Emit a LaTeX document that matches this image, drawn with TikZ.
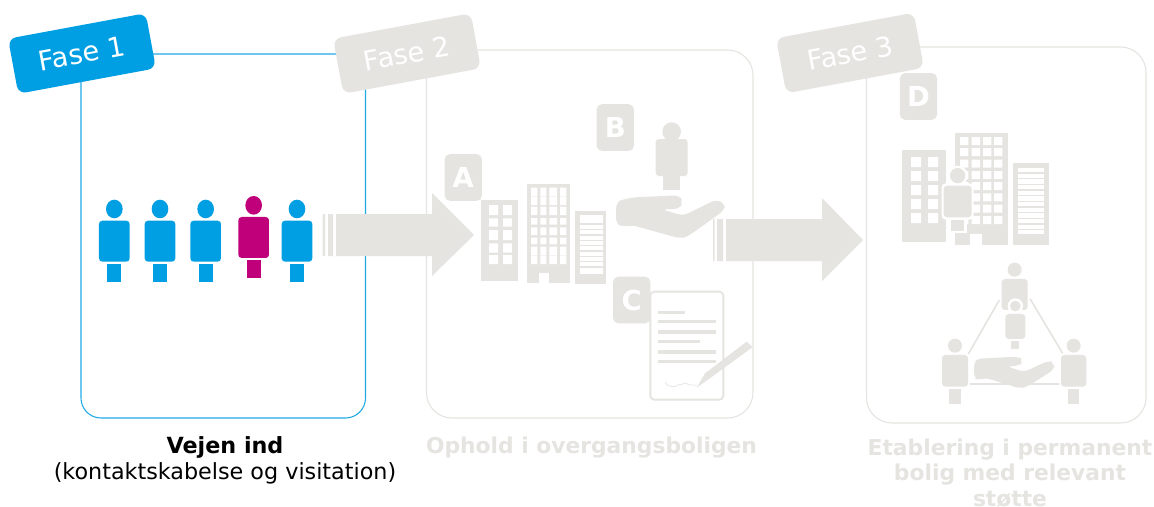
\documentclass[tikz,border=0pt]{standalone}
\usepackage{fontspec}
\setmainfont{DejaVu Sans}
\definecolor{fblue}{HTML}{009FE3}
\definecolor{fline}{HTML}{1FA9E5}
\definecolor{fgray}{HTML}{E5E4E0}
\definecolor{fmag}{HTML}{C0007A}
\newcommand{\personfig}[9]{% colour, cx, head cy, head rx, head ry, half body, body top, body bottom, half leg; then leg top, leg bottom
  \def\pA{#1}\def\pB{#2}\def\pC{#3}\def\pD{#4}\def\pE{#5}\def\pF{#6}\def\pG{#7}\def\pH{#8}\def\pI{#9}\personfigb}
\newcommand{\personfigb}[2]{%
  \fill[\pA] (\pB,\pC) ellipse [x radius=\pD, y radius=\pE];
  \fill[\pA,rounded corners=2.5pt] ({\pB-\pF},\pG) rectangle ({\pB+\pF},\pH);
  \fill[\pA] ({\pB-\pI},#1) rectangle ({\pB+\pI},#2);}
\newcommand{\cutout}[2]{% white windows: columns a/b, rows c/d
  \fill[white] \foreach \xa/\xb in {#1}{\foreach \ya/\yb in {#2}{(\xa,\ya) rectangle (\xb,\yb)}};}
\tikzset{
  tagbox/.style={fill=#1,rounded corners=6pt,rotate=10.5,minimum width=105pt,minimum height=42pt,inner sep=0pt,text=white,font=\fontsize{20.5}{20.5}\selectfont},
  letterbox/.style={fill=fgray,rounded corners=4pt,minimum width=28pt,minimum height=35pt,inner sep=0pt,text=white,font=\bfseries\fontsize{20.6}{20.6}\selectfont},
  phasebox/.style={draw=fgray,line width=.8pt,rounded corners=19pt},
  caption/.style={align=center,inner sep=0pt,font=\fontsize{16.7}{19.5}\selectfont},
  graycaption/.style={caption,text=fgray,font=\bfseries\fontsize{16.35}{19}\selectfont},
  glyph/.style={fill=fgray}
}
\begin{document}
\begin{tikzpicture}[x=.75pt,y=-.75pt]
\useasboundingbox (0,0) rectangle (1154,507);
\fill[white] (0,0) rectangle (1154,507);
% phase frames
\draw[draw=fline,line width=.8pt,rounded corners=15pt] (81,54) rectangle (365.5,418);
\draw[phasebox] (426.5,50) rectangle (753,418);
\draw[phasebox] (866.5,47) rectangle (1146,423);
% block arrows
\path[glyph] (336,214) -- (432,214) -- (432,193) -- (474,235) -- (432,276) -- (432,256) -- (336,256) -- cycle;
\fill[fgray] (322.5,214) rectangle (325,256) (328,214) rectangle (333,256);
\path[glyph] (726,219) -- (822,219) -- (822,198) -- (863,240) -- (822,281) -- (822,261) -- (726,261) -- cycle;
\fill[fgray] (713,219) rectangle (714.5,261) (717,219) rectangle (723,261);
% tags
\node[tagbox=fblue] (tag1) at (82,53.5) {Fase 1};
\node[tagbox=fgray] (tag2) at (407,53.5) {Fase 2};
\node[tagbox=fgray] (tag3) at (850,53) {Fase 3};
% people of phase 1
\begin{scope}[scale=1/3]
\personfig{fblue}{343}{627}{25}{28}{46}{662}{785}{21}{792}{845}
\personfig{fblue}{480}{627}{25}{28}{46}{662}{785}{21}{792}{845}
\personfig{fblue}{617}{627}{25}{28}{46}{662}{785}{21}{792}{845}
\personfig{fmag}{761}{616}{25}{28}{46}{651}{774}{21}{781}{834}
\personfig{fblue}{891}{627}{25}{28}{46}{662}{785}{21}{792}{845}
\end{scope}
% letters
\node[letterbox] (A) at (463.3,177.5) {A};
\node[letterbox] (B) at (615.3,127.5) {B};
\node[letterbox] (C) at (631.7,300) {C};
\node[letterbox] (D) at (918.5,96.5) {D};
% phase 2 icons
\begin{scope}[shift={(430,90)},scale=1/3]
\fill[fgray] (153,330) rectangle (265,573);
\cutout{177/204,219/246}{345/375,385/410,420/450,460/488,495/522}
\fill[fgray] (292,283) rectangle (420,578);
\cutout{303/322,331/349,358/381,390/409}{293/318,320/345,350/375,384/404,412/435,443/463,470/495,497/522}
\fill[white] (326,548) rectangle (356,578);
\fill[fgray] (435,363) rectangle (528,581);
\fill[white] (449,374) rectangle (520,552);
\foreach \yy in {402,418,435,451,467,483,499,515,531}{\fill[fgray] (449,\yy-2) rectangle (520,\yy+2);}
% person on hand
\personfig{fgray}{725}{125}{28}{28}{48}{147}{258}{25}{255}{300}
% hand
\fill[fgray,rounded corners=4pt] (595,328) -- (578,326) -- (558,340) -- (558,400) -- (578,411) -- (605,405) -- (752,446) -- (775,438) -- (884,360) -- (884,340) -- (858,329) -- (760,377) -- (695,358) -- (748,357) -- (759,336) -- (748,316) -- (610,322) -- cycle;
% document
\draw[fgray,line width=1.4pt,rounded corners=3pt] (661,605) rectangle (880,929);
\foreach \ya/\xb in {667/765,695/857,726/857,754/811,786/857,814/857}{\fill[fgray] (685,\ya-5) rectangle (\xb,\ya+5);}
\draw[fgray,line width=.5pt] (705,878) .. controls (712,890) and (735,895) .. (745,884) .. controls (755,890) and (765,870) .. (775,884) -- (800,886);
\fill[fgray] (950,755) -- (967,772) -- (860,850) -- (800,893) -- (825,850) -- cycle;
\end{scope}
% phase 3 icons
\begin{scope}[shift={(770,10)},scale=1/3]
\fill[fgray] (396,420) rectangle (527,695);
\cutout{423/453,474/504}{441/471,483/513,525/555,567/597,609/639}
\fill[fgray] (555,369) rectangle (713,705);
\cutout{570/595,605/630,639/664,672/697}{381/405,414/438,449/473,483/507,516/540,550/574,584/608,618/642}
\fill[white] (600,672) rectangle (636,705);
\fill[fgray] (729,459) rectangle (837,705);
\fill[white] (744,474) rectangle (822,672);
\foreach \yy in {489,506,523,540,557,574,591,608,625,642,659}{\fill[fgray] (744,\yy-2) rectangle (822,\yy+2);}
% person in the buildings, outlined white
\fill[white] (563,497) circle (30);
\fill[white,rounded corners=3pt] (515,520) rectangle (611,629);
\fill[white] (538,625) rectangle (591,669);
\personfig{fgray}{563}{497}{23}{23}{42}{527}{622}{20}{629}{663}
% team
\draw[fgray,line width=1.2pt] (688,870) -- (595,1032) (780,866) -- (878,1030) (600,1122) -- (868,1122);
\personfig{fgray}{734}{779}{21}{21}{39}{807}{900}{0}{900}{900}
\fill[white] (736,888) circle (23);
\fill[white] (698,905) rectangle (772,994);
\personfig{fgray}{736}{888}{16}{16}{30}{912}{987}{12}{993}{1017}
\personfig{fgray}{555}{1007}{21}{21}{39}{1035}{1130}{17}{1136}{1182}
\personfig{fgray}{911}{1007}{21}{21}{38}{1035}{1130}{17}{1136}{1182}
\fill[fgray,rounded corners=4pt] (640,1045) -- (625,1047) -- (612,1055) -- (612,1105) -- (625,1110) -- (645,1103) -- (752,1136) -- (775,1128) -- (853,1078) -- (853,1058) -- (835,1052) -- (762,1086) -- (710,1069) -- (750,1067) -- (759,1053) -- (748,1040) -- cycle;
\end{scope}
% captions
\node[caption] (c1) at (225,460) {\textbf{Vejen ind}\\(kontaktskabelse og visitation)};
\node[graycaption] (c2) at (591.5,448) {Ophold i overgangsboligen};
\node[graycaption] (c3) at (1010,473) {Etablering i permanent\\bolig med relevant\\støtte};
\end{tikzpicture}
\end{document}
